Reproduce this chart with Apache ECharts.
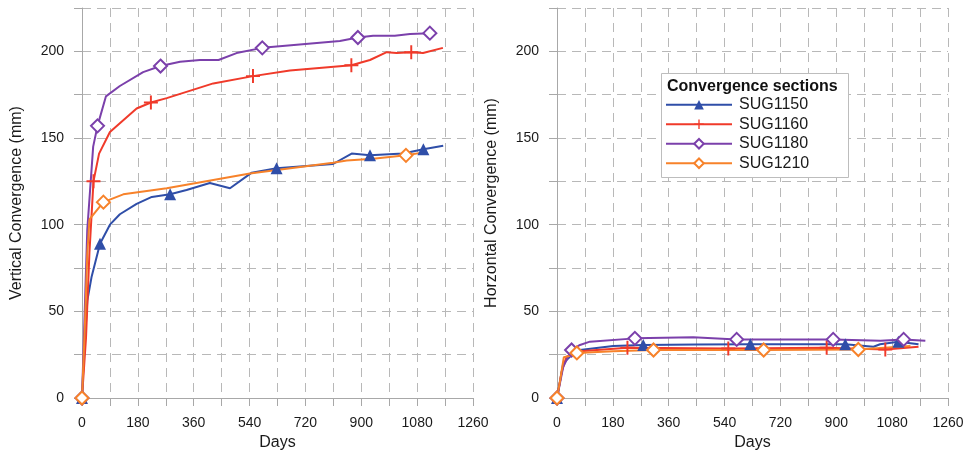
<!DOCTYPE html>
<html>
<head>
<meta charset="utf-8">
<title>Convergence sections</title>
<style>
  html, body { margin: 0; padding: 0; background: #fff; }
  #chart { width: 967px; height: 457px; }
</style>
<script src="https://cdn.jsdelivr.net/npm/echarts@6/dist/echarts.min.js"></script>
</head>
<body>
<div id="chart"></div>
<script>
// series names
var sections = ['SUG1150', 'SUG1160', 'SUG1180', 'SUG1210'];

// vertical convergence [day, mm]
var vert1150 = [[0,0],[5,20],[17,56],[31,70],[58,89],[90,100],[122,106],[176,112],[225,116],[284,117.5],[337,120],[412,124],[477,121],[547,130],[627,132.5],[809,135],[869,141],[928,140],[1035,141],[1100,143.5],[1164,145.5]];
var vert1160 = [[0,0],[13,35],[24,84],[37,125],[55,141],[90,153.5],[176,167],[222,170.5],[273,173],[423,181.5],[551,185.7],[670,189],[868,192],[928,195],[982,199.5],[1014,199],[1061,199.5],[1099,199],[1163,202]];
var vert1180 = [[0,0],[17,97],[36,145],[50,157],[77,174],[122,180],[197,188],[253,191.5],[316,194],[380,195],[440,195],[498,199],[581,202],[831,206],[889,208],[938,209],[1008,209],[1057,210],[1121,210.5]];
var vert1210 = [[0,0],[10,45],[17,83],[24,103],[69,113],[133,117.5],[273,121],[541,129.5],[809,135.7],[853,137],[938,138],[1044,140],[1111,142]];

// horizontal convergence [day, mm]
var hor1150 = [[0,0],[20,20],[53,25.8],[74,27.7],[181,30],[278,30.6],[450,30.8],[623,31],[800,31],[929,31],[1020,29.6],[1041,31],[1100,32.5],[1165,31]];
var hor1160 = [[0,0],[15,15],[31,23.8],[74,27],[227,29],[552,28.6],[869,29],[1058,28],[1165,29.6]];
var hor1180 = [[0,0],[20,18],[47,27.7],[74,30.6],[106,32.5],[251,34.4],[439,35],[579,33.8],[890,33.8],[1042,33],[1117,33.8],[1187,33]];
var hor1210 = [[0,0],[10,10],[22,23.5],[53,24.8],[64,26],[181,27],[311,27.7],[666,27.7],[971,28],[1139,30]];

// days where a marker is drawn
var vertMarks = [[0,58,284,627,928,1100],[0,37,222,551,868,1061],[0,50,253,581,889,1121],[0,69,1044]];
var horMarks = [[0,278,623,929,1100],[0,227,552,869,1058],[0,47,251,579,890,1117],[0,64,311,666,971]];

var dayTicks = [0,180,360,540,720,900,1080,1260];
var mmTicks = [0,50,100,150,200];

var colors = ['#2f4ea8', '#f03a2a', '#7b40ab', '#f7822a'];
var plus = 'path://M8.6,0L11.4,0L11.4,8.6L20,8.6L20,11.4L11.4,11.4L11.4,20L8.6,20L8.6,11.4L0,11.4L0,8.6L8.6,8.6Z';
var symbols = ['triangle', plus, 'diamond', 'diamond'];
var symSizes = [12, 14, 13, 13];

var dom = document.getElementById('chart');
var myChart = echarts.init(dom);

function buildData(pts, marks) {
    return pts.map(function (p) {
        if (marks.indexOf(p[0]) >= 0) return { value: p };
        return { value: p, symbol: 'none' };
    });
}

function makeSeries(idx, pts, marks, gi) {
    var c = colors[idx];
    var hollow = idx >= 2;
    return {
        name: sections[idx],
        type: 'line',
        xAxisIndex: gi,
        yAxisIndex: gi,
        data: buildData(pts, marks),
        symbol: symbols[idx],
        symbolSize: symSizes[idx],
        showSymbol: true,
        lineStyle: { color: c, width: 2 },
        itemStyle: hollow ? { color: '#fff', borderColor: c, borderWidth: 2 } : { color: c, borderWidth: 0 },
        emphasis: { disabled: true },
        animation: false
    };
}

var gridLine = { show: true, lineStyle: { color: '#b8b8b8', type: [9, 6], width: 1 } };
var axisLn = { show: true, onZero: false, lineStyle: { color: '#a8a8a8', width: 1 } };
var tick = { show: true, length: 8, lineStyle: { color: '#a8a8a8' } };
var labelStyle = { color: '#1a1a1a', fontSize: 14, fontFamily: 'Liberation Sans, Arial, sans-serif' };

function xAxis(gi) {
    return {
        type: 'value', gridIndex: gi, min: 0, max: 1260, interval: 90,
        name: 'Days', nameLocation: 'middle', nameGap: 35,
        nameTextStyle: { color: '#1a1a1a', fontSize: 16, fontFamily: 'Liberation Sans, Arial, sans-serif' },
        axisLine: axisLn, axisTick: tick, splitLine: gridLine,
        axisLabel: Object.assign({ margin: 18, formatter: function (v) {
            return dayTicks.indexOf(v) >= 0 ? String(v) : '';
        } }, labelStyle)
    };
}

function yAxis(gi, name) {
    return {
        type: 'value', gridIndex: gi, min: 0, max: 225, interval: 25,
        name: name, nameLocation: 'middle', nameGap: 57,
        nameTextStyle: { color: '#1a1a1a', fontSize: 16, fontFamily: 'Liberation Sans, Arial, sans-serif' },
        axisLine: axisLn, axisTick: tick, splitLine: gridLine,
        axisLabel: Object.assign({ margin: 18, formatter: function (v) {
            return mmTicks.indexOf(v) >= 0 ? String(v) : '';
        } }, labelStyle)
    };
}

var series = [];
[vert1150, vert1160, vert1180, vert1210].forEach(function (pts, i) {
    series.push(makeSeries(i, pts, vertMarks[i], 0));
});
[hor1150, hor1160, hor1180, hor1210].forEach(function (pts, i) {
    series.push(makeSeries(i, pts, horMarks[i], 1));
});

var option = {
    backgroundColor: '#fff',
    animation: false,
    grid: [
        { left: 82, right: 494, top: 8, bottom: 59 },
        { left: 557, right: 19, top: 8, bottom: 59 }
    ],
    xAxis: [xAxis(0), xAxis(1)],
    yAxis: [yAxis(0, 'Vertical Convergence (mm)'), yAxis(1, 'Horzontal Convergence (mm)')],
    legend: {
        data: sections,
        orient: 'vertical',
        left: 665,
        top: 96,
        itemWidth: 66,
        itemHeight: 12,
        itemGap: 2,
        padding: 0,
        z: 6,
        textStyle: { color: '#1a1a1a', fontSize: 16, lineHeight: 17.5, fontFamily: 'Liberation Sans, Arial, sans-serif', padding: [0, 0, 0, 2] }
    },
    graphic: [
        {
            type: 'rect', z: 5, left: 661, top: 73,
            shape: { width: 187, height: 104 },
            style: { fill: '#fff', stroke: '#bdbdbd', lineWidth: 1 }
        },
        {
            type: 'text', z: 6, left: 667, top: 79,
            style: { text: 'Convergence sections', fill: '#111', font: 'bold 16px "Liberation Sans", Arial, sans-serif' }
        }
    ],
    series: series
};

myChart.setOption(option);
</script>
</body>
</html>
